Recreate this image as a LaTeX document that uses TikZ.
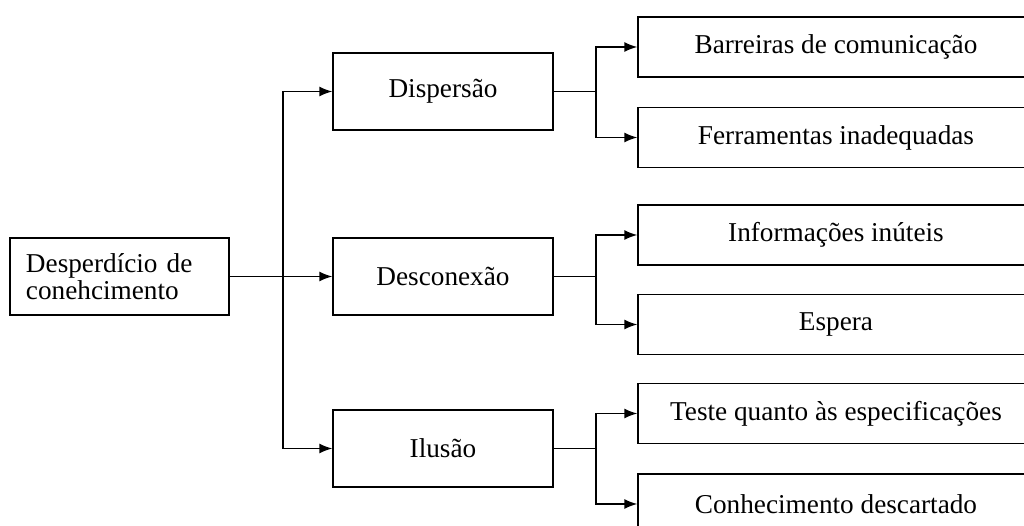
\documentclass[tikz,border=0pt]{standalone}
\usepackage{fontspec}
\setmainfont{Liberation Serif}
\usetikzlibrary{arrows.meta}

\begin{document}
\begin{tikzpicture}[->,>={Latex[length=2.6mm,width=2mm]},line width=0.8pt,
    box/.style={draw,-,minimum width=4.4cm,minimum height=1.54cm,font=\fontsize{15.5}{17}\selectfont},
    leaf/.style={box,minimum width=7.92cm,minimum height=1.2cm}]
      \useasboundingbox (0,0) rectangle (20.48,-10.52);
      \node[box,minimum width=4.38cm,text width=3.74cm,align=left,inner xsep=0.32cm,
        font=\fontsize{15.5}{15.4}\selectfont] (root) at (2.39,-5.53) {Desperdício de\\conehcimento};
      \node[box] (disp) at (8.86,-1.83) {Dispersão};
      \node[box] (desc) at (8.86,-5.53) {Desconexão};
      \node[box] (ilu) at (8.86,-8.97) {Ilusão};
      \node[leaf] (barr) at (16.72,-0.94) {Barreiras de comunicação};
      \node[leaf] (ferr) at (16.72,-2.75) {Ferramentas inadequadas};
      \node[leaf] (info) at (16.72,-4.70) {Informações inúteis};
      \node[leaf] (esp) at (16.72,-6.49) {Espera};
      \node[leaf] (test) at (16.72,-8.27) {Teste quanto às especificações};
      \node[leaf] (conh) at (16.72,-10.08) {Conhecimento descartado};
      \coordinate (tr) at (5.66,0); \coordinate (br) at (11.92,0);
      % root to the three groups
      \draw (root) -- (desc);
      \draw (root.east -| tr) |- (disp.west);
      \draw (root.east -| tr) |- (ilu.west);
      % groups to their causes
      \draw[-] (disp.east) -- (disp.east -| br);
      \draw (disp.east -| br) |- (barr.west);
      \draw (disp.east -| br) |- (ferr.west);
      \draw[-] (desc.east) -- (desc.east -| br);
      \draw (desc.east -| br) |- (info.west);
      \draw (desc.east -| br) |- (esp.west);
      \draw[-] (ilu.east) -- (ilu.east -| br);
      \draw (ilu.east -| br) |- (test.west);
      \draw (ilu.east -| br) |- (conh.west);
    \end{tikzpicture}
\end{document}
